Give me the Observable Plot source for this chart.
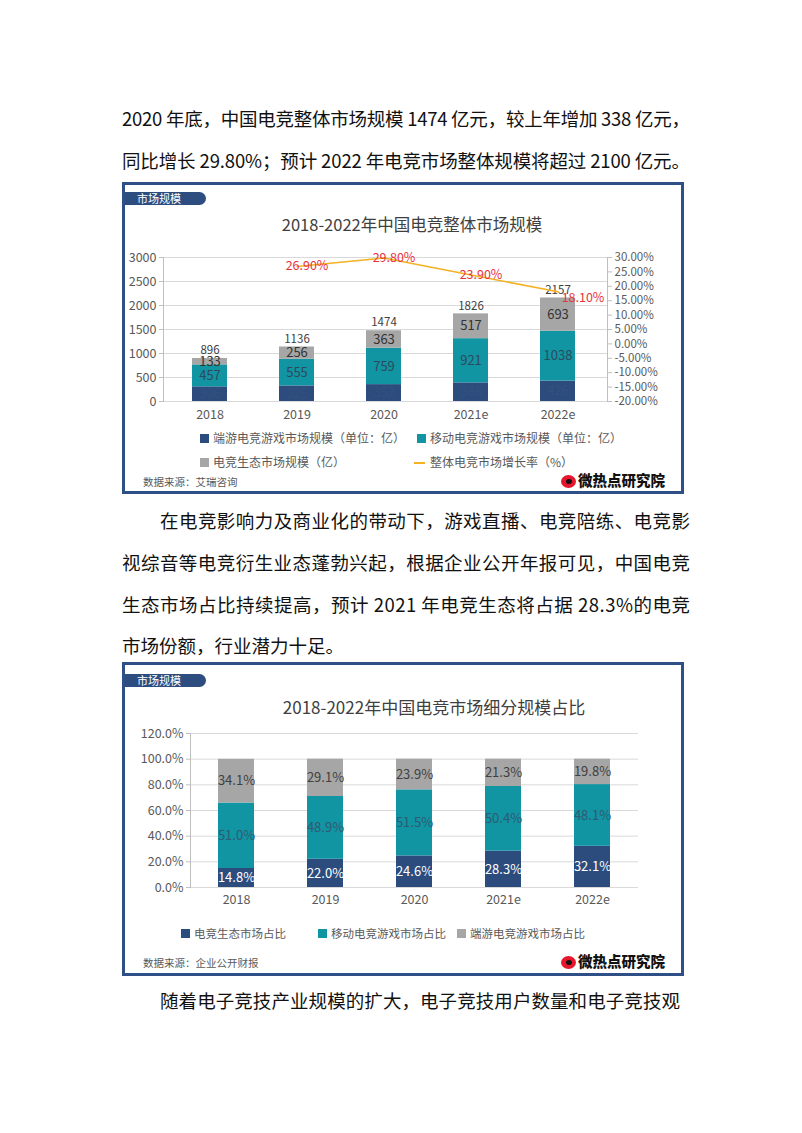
<!DOCTYPE html>
<html><head><meta charset="utf-8">
<script src="https://cdn.jsdelivr.net/npm/d3@7"></script>
<script src="https://cdn.jsdelivr.net/npm/@observablehq/plot@0.6"></script>
<style>
body{margin:0;background:#fff;}
#page{position:relative;width:802px;height:1133px;overflow:hidden;background:#fff;font-family:"Noto Sans CJK SC","Noto Sans",sans-serif;}
.line{position:absolute;height:30px;line-height:30px;font-size:18.5px;color:#111;white-space:nowrap;}
.line span{display:inline-block;}
.panel{position:absolute;border:3px solid #2e5087;box-sizing:border-box;}
.tab{position:absolute;background:#2d4d80;color:#fff;font-size:11px;height:13px;line-height:13px;padding-left:12px;box-sizing:border-box;border-radius:0 7px 7px 0;}
.ctitle{position:absolute;font-size:17px;color:#404040;text-align:center;white-space:nowrap;width:400px;}
.leg{position:absolute;font-size:12px;color:#595959;white-space:nowrap;height:16px;line-height:16px;}
.sw{display:inline-block;width:9px;height:9px;margin-right:4px;vertical-align:-0px;}
.lsw{display:inline-block;width:11px;height:2px;margin-right:5px;vertical-align:3px;}
.src{position:absolute;font-size:10.5px;color:#595959;white-space:nowrap;}
.logo{position:absolute;font-size:14.5px;font-weight:900;color:#111;white-space:nowrap;height:20px;line-height:20px;}
.eye{display:inline-block;position:relative;width:15px;height:13px;border-radius:50%;background:#e6162d;vertical-align:-2px;margin-right:2px;}
.eye::after{content:"";position:absolute;left:5px;top:4px;width:6px;height:5px;border-radius:50%;background:#111;}
.chart{position:absolute;}
</style></head>
<body><div id="page"></div>
<script>
// ---------- data ----------
const years = ["2018", "2019", "2020", "2021e", "2022e"];
const pcGameSize = [306, 325, 352, 388, 426];
const mobileGameSize = [457, 555, 759, 921, 1038];
const ecosystemSize = [133, 256, 363, 517, 693];
const totalSize = [896, 1136, 1474, 1826, 2157];
const rateYears = ["2019", "2020", "2021e", "2022e"];
const growthRate = [26.9, 29.8, 23.9, 18.1];
const sizeTicks = [0, 500, 1000, 1500, 2000, 2500, 3000];
const rateTicks = [30, 25, 20, 15, 10, 5, 0, -5, -10, -15, -20];
const series1 = ["端游电竞游戏市场规模（单位：亿）", "移动电竞游戏市场规模（单位：亿）", "电竞生态市场规模（亿）"];
const lineName1 = "整体电竞市场增长率（%）";

const ecoShare = [14.8, 22.0, 24.6, 28.3, 32.1];
const mobileShare = [51.0, 48.9, 51.5, 50.4, 48.1];
const pcShare = [34.1, 29.1, 23.9, 21.3, 19.8];
const shareTicks = [0, 20, 40, 60, 80, 100, 120];
const series2 = ["电竞生态市场占比", "移动电竞游戏市场占比", "端游电竞游戏市场占比"];

const title1 = "2018-2022年中国电竞整体市场规模";
const title2 = "2018-2022年中国电竞市场细分规模占比";
const source1 = "数据来源：艾瑞咨询";
const source2 = "数据来源：企业公开财报";
const tabText = "市场规模";
const logoText = "微热点研究院";

const para1 = ["2020 年底，中国电竞整体市场规模 1474 亿元，较上年增加 338 亿元，",
               "同比增长 29.80%；预计 2022 年电竞市场整体规模将超过 2100 亿元。"];
const para2 = ["在电竞影响力及商业化的带动下，游戏直播、电竞陪练、电竞影",
               "视综音等电竞衍生业态蓬勃兴起，根据企业公开年报可见，中国电竞",
               "生态市场占比持续提高，预计 2021 年电竞生态将占据 28.3%的电竞",
               "市场份额，行业潜力十足。"];
const para3 = ["随着电子竞技产业规模的扩大，电子竞技用户数量和电子竞技观"];

const NAVY = "#2d4c7e", TEAL = "#1295a3", GRAY = "#a6a6a6", ORANGE = "#f4b223", RED = "#e8333c";
const FONT = '"Noto Sans CJK SC","Noto Sans",sans-serif';

// ---------- page helpers ----------
const page = document.getElementById("page");
function el(cls, css, html) {
  const d = document.createElement("div");
  d.className = cls; Object.assign(d.style, css); d.innerHTML = html || "";
  page.appendChild(d); return d;
}
const fitLines = [];
function textLine(txt, left, cy, right) {
  const d = el("line", {left: left + "px", top: (cy - 15) + "px"});
  const s = document.createElement("span"); s.textContent = txt; d.appendChild(s);
  if (right != null) fitLines.push([s, right - left, txt]);
}
textLine(para1[0], 122, 118, 690);
textLine(para1[1], 122, 160, 690);
textLine(para2[0], 160, 520, 690);
textLine(para2[1], 122, 562, 690);
textLine(para2[2], 122, 604, 690);
textLine(para2[3], 122, 645, null);
textLine(para3[0], 160, 1000, 680);

// ---------- panel 1 ----------
el("panel", {left: "122px", top: "182px", width: "562px", height: "312px"});
el("tab", {left: "125px", top: "192px", width: "81px"}, tabText);
el("ctitle", {left: "212px", top: "212px", fontSize: "16.5px"}, title1);

const data1 = [];
years.forEach((yr, i) => {
  data1.push({year: yr, series: series1[0], value: pcGameSize[i]});
  data1.push({year: yr, series: series1[1], value: mobileGameSize[i]});
  data1.push({year: yr, series: series1[2], value: ecosystemSize[i]});
});
const totals1 = years.map((yr, i) => ({year: yr, total: totalSize[i]}));
const rates1 = rateYears.map((yr, i) => ({year: yr, rate: growthRate[i]}));
const rateToY = r => (r + 20) * 60;   // map right-axis % onto the shared y scale (−20%→0, 30%→3000)
const labelColor1 = {[series1[0]]: "#33507e", [series1[1]]: "#2d4a5c", [series1[2]]: "#333333"};

const chart1 = Plot.plot({
  width: 560, height: 190,
  marginTop: 12, marginBottom: 34, marginLeft: 41, marginRight: 75,
  x: {domain: years, range: [43, 480], paddingInner: 0.6, paddingOuter: 0.3, label: null},
  y: {domain: [0, 3000], label: null},
  color: {domain: series1, range: [NAVY, TEAL, GRAY]},
  style: {fontFamily: FONT, fontSize: "12.5px", color: "#595959", background: "transparent", overflow: "visible"},
  marks: [
    Plot.gridY(sizeTicks, {stroke: "#d9d9d9", strokeOpacity: 1}),
    Plot.frame({anchor: "left", stroke: "#bfbfbf"}),
    Plot.frame({anchor: "right", stroke: "#bfbfbf"}),
    Plot.barY(data1, Plot.stackY({x: "year", y: "value", fill: "series", order: series1})),
    Plot.text(data1, Plot.stackY({x: "year", y: "value", text: d => String(d.value), order: series1,
      fill: d => labelColor1[d.series], fontSize: 13})),
    Plot.text(totals1, {x: "year", y: "total", text: d => String(d.total), dy: -8, fill: "#404040", fontSize: 11.5}),
    Plot.line(rates1, {x: "year", y: d => rateToY(d.rate), stroke: ORANGE, strokeWidth: 1.6}),
    Plot.text(rates1.slice(0, 3), {x: "year", y: d => rateToY(d.rate), text: d => d.rate.toFixed(2) + "%", dx: 10, fill: RED, fontSize: 12.5}),
    Plot.text(rates1.slice(3), {x: "year", y: d => rateToY(d.rate), text: d => d.rate.toFixed(2) + "%", dx: 25, dy: 6, fill: RED, fontSize: 12.5}),
    Plot.axisY(sizeTicks, {anchor: "left", tickSize: 4, tickPadding: 3, stroke: "#bfbfbf", label: null, tickFormat: d => String(d)}),
    Plot.axisY(rateTicks.map(rateToY), {anchor: "right", tickSize: 4, tickPadding: 3, stroke: "#bfbfbf", label: null,
      fontSize: 11.5, tickFormat: v => (v / 60 - 20).toFixed(2) + "%"}),
    Plot.axisX({anchor: "bottom", tickSize: 0, tickPadding: 9, label: null})
  ]
});
const c1 = el("chart", {left: "122px", top: "245px"}); c1.appendChild(chart1);

el("leg", {left: "200px", top: "430px"}, `<span class="sw" style="background:${NAVY}"></span>${series1[0]}`);
el("leg", {left: "417px", top: "430px"}, `<span class="sw" style="background:${TEAL}"></span>${series1[1]}`);
el("leg", {left: "200px", top: "454px"}, `<span class="sw" style="background:${GRAY}"></span>${series1[2]}`);
el("leg", {left: "414px", top: "454px"}, `<span class="lsw" style="background:${ORANGE}"></span>${lineName1}`);
el("src", {left: "143px", top: "474px"}, source1);
el("logo", {left: "561px", top: "470px"}, `<span class="eye"></span>${logoText}`);

// ---------- panel 2 ----------
el("panel", {left: "122px", top: "662px", width: "562px", height: "314px"});
el("tab", {left: "125px", top: "674px", width: "81px"}, tabText);
el("ctitle", {left: "234px", top: "694px"}, title2);

const data2 = [];
years.forEach((yr, i) => {
  data2.push({year: yr, series: series2[0], value: ecoShare[i]});
  data2.push({year: yr, series: series2[1], value: mobileShare[i]});
  data2.push({year: yr, series: series2[2], value: pcShare[i]});
});
const labelColor2 = {[series2[0]]: "#ffffff", [series2[1]]: "#2f5a72", [series2[2]]: "#404040"};

const chart2 = Plot.plot({
  width: 560, height: 195,
  marginTop: 13, marginBottom: 28, marginLeft: 68, marginRight: 44,
  x: {domain: years, paddingInner: 0.6, paddingOuter: 0.3, label: null},
  y: {domain: [0, 120], label: null},
  color: {domain: series2, range: [NAVY, TEAL, GRAY]},
  style: {fontFamily: FONT, fontSize: "12.5px", color: "#595959", background: "transparent", overflow: "visible"},
  marks: [
    Plot.gridY(shareTicks, {stroke: "#d9d9d9", strokeOpacity: 1}),
    Plot.frame({anchor: "left", stroke: "#bfbfbf"}),
    Plot.barY(data2, Plot.stackY({x: "year", y: "value", fill: "series", order: series2})),
    Plot.text(data2, Plot.stackY({x: "year", y: "value", text: d => d.value.toFixed(1) + "%", order: series2,
      fill: d => labelColor2[d.series], fontSize: 13})),
    Plot.axisY(shareTicks, {anchor: "left", tickSize: 4, tickPadding: 3, stroke: "#bfbfbf", label: null, tickFormat: d => d.toFixed(1) + "%"}),
    Plot.axisX({anchor: "bottom", tickSize: 0, tickPadding: 8, label: null})
  ]
});
const c2 = el("chart", {left: "122px", top: "720px"}); c2.appendChild(chart2);

el("leg", {left: "181px", top: "925px", fontSize: "11.5px"}, `<span class="sw" style="background:${NAVY}"></span>${series2[0]}`);
el("leg", {left: "318px", top: "925px", fontSize: "11.5px"}, `<span class="sw" style="background:${TEAL}"></span>${series2[1]}`);
el("leg", {left: "457px", top: "925px", fontSize: "11.5px"}, `<span class="sw" style="background:${GRAY}"></span>${series2[2]}`);
el("src", {left: "143px", top: "955px"}, source2);
el("logo", {left: "561px", top: "951px"}, `<span class="eye"></span>${logoText}`);

// ---------- fit justified text lines ----------
fitLines.forEach(([s, target, txt]) => {
  const w = s.getBoundingClientRect().width;
  const n = [...txt].length;
  s.style.letterSpacing = ((target - w) / (n - 1)) + "px";
});
</script>
</body></html>
